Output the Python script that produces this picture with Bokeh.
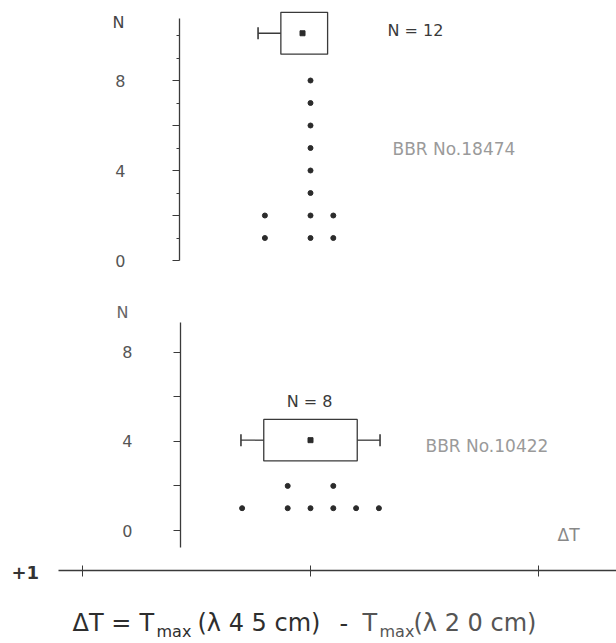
from bokeh.plotting import figure
from bokeh.models import Range1d, LinearAxis, FixedTicker, Label
from bokeh.embed import file_html
from bokeh.resources import INLINE

# ---------------- data ----------------
# upper panel: dot histogram, one dot per object, stacked by count
top_bins = [-0.2, 0.0, 0.1]
top_counts = [2, 8, 2]
top_n_text = "N = 12"
top_id_text = "BBR No.18474"
# upper panel summary box: centre, box limits, whisker limits, level
top_box_center = [-0.035]
top_box_lo = [-0.13]
top_box_hi = [0.075]
top_whisker_lo = [-0.23]
top_box_level = [10.1]

# lower panel
bot_bins = [-0.3, -0.1, 0.0, 0.1, 0.2, 0.3]
bot_counts = [1, 2, 1, 2, 1, 1]
bot_n_text = "N = 8"
bot_id_text = "BBR No.10422"
bot_box_center = [0.0]
bot_box_lo = [-0.205]
bot_box_hi = [0.205]
bot_whisker_lo = [-0.305]
bot_whisker_hi = [0.305]
bot_box_level = [4.05]

y_labeled_ticks = [0, 4, 8]
y_mid_ticks = [2, 6]
top_small_ticks = [1, 3, 5, 7, 9, 10]
x_ticks = [-1, 0, 1]

# ---------------- layout mapping (canvas pixels) ----------------
W, H = 616, 643
PX0, SX = 310.0, 228.0      # x pixel of dT = 0, px per unit
PYB, SYB = 530.0, 22.3      # lower panel: y pixel of N = 0, px per count
PYT, SYT = 260.0, 22.5      # upper panel


def X(px):
    return (px - PX0) / SX


def YB(py):
    return (PYB - py) / SYB


def YT(py):
    return (PYT - py) / SYT


p = figure(width=W, height=H,
           x_range=Range1d(X(0), X(W)),
           y_range=Range1d(YB(H), YB(0)),
           output_backend="svg", toolbar_location=None,
           x_axis_location=None, y_axis_location=None,
           min_border=0, outline_line_color=None,
           background_fill_color="white", border_fill_color="white")
p.extra_y_ranges = {"top": Range1d(YT(H), YT(0))}
p.grid.visible = False

AX_COL = "#3a3a3a"
LBL_COL = "#555555"
FONT = "DejaVu Sans"


def y_axis(range_name, xloc, bounds, standoff):
    kw = {} if range_name is None else {"y_range_name": range_name}
    ax = LinearAxis(fixed_location=xloc, bounds=bounds,
                    ticker=FixedTicker(ticks=y_labeled_ticks, minor_ticks=y_mid_ticks),
                    axis_line_color=AX_COL, axis_line_width=1.3,
                    major_tick_line_color=AX_COL, major_tick_out=7, major_tick_in=0,
                    minor_tick_line_color=AX_COL, minor_tick_out=7, minor_tick_in=0,
                    major_label_standoff=standoff,
                    major_label_text_font=FONT, major_label_text_font_size="16px",
                    major_label_text_color=LBL_COL, **kw)
    p.add_layout(ax, "left")


# upper y axis (+ small unit ticks on a label-free axis)
y_axis("top", X(179), (0, YT(18)), 47)
p.add_layout(LinearAxis(y_range_name="top", fixed_location=X(179), bounds=(0, YT(18)),
                        ticker=FixedTicker(ticks=[], minor_ticks=top_small_ticks),
                        axis_line_color=None, major_tick_line_color=None,
                        minor_tick_line_color=AX_COL, minor_tick_out=3, minor_tick_in=0),
             "left")
# lower y axis
y_axis(None, X(180), (YB(547), YB(322)), 41)

# dT axis: ticks only (no numbers in the picture)
ax_x = LinearAxis(fixed_location=YB(570),
                  bounds=(X(58), X(W)),
                  ticker=FixedTicker(ticks=[], minor_ticks=x_ticks),
                  axis_line_color=AX_COL, axis_line_width=1.3,
                  major_tick_line_color=None,
                  minor_tick_line_color=AX_COL, minor_tick_out=6, minor_tick_in=5)
p.add_layout(ax_x, "below")

DOT = "#2b2b2b"

# upper dots
tx, ty = [], []
for b, c in zip(top_bins, top_counts):
    for k in range(1, c + 1):
        tx.append(b)
        ty.append(k)
p.scatter(tx, ty, y_range_name="top", size=5, color=DOT)

# lower dots
bx, by = [], []
for b, c in zip(bot_bins, bot_counts):
    for k in range(1, c + 1):
        bx.append(b)
        by.append(k)
p.scatter(bx, by, size=5, color=DOT)

BOX_HALF = 0.93
CAP = 0.27
# upper box
p.quad(left=top_box_lo, right=top_box_hi,
       bottom=[v - BOX_HALF for v in top_box_level], top=[v + BOX_HALF for v in top_box_level],
       fill_color=None, line_color=AX_COL, line_width=1.3, y_range_name="top")
p.segment(x0=top_whisker_lo, x1=top_box_lo, y0=top_box_level, y1=top_box_level,
          line_color=AX_COL, line_width=1.3, y_range_name="top")
p.segment(x0=top_whisker_lo, x1=top_whisker_lo,
          y0=[v - CAP for v in top_box_level], y1=[v + CAP for v in top_box_level],
          line_color=AX_COL, line_width=1.6, y_range_name="top")
p.scatter(top_box_center, top_box_level, marker="square", size=5, color=DOT, y_range_name="top")

# lower box
p.quad(left=bot_box_lo, right=bot_box_hi,
       bottom=[v - BOX_HALF for v in bot_box_level], top=[v + BOX_HALF for v in bot_box_level],
       fill_color=None, line_color=AX_COL, line_width=1.3)
p.segment(x0=bot_whisker_lo + bot_box_hi, x1=bot_box_lo + bot_whisker_hi,
          y0=bot_box_level * 2, y1=bot_box_level * 2,
          line_color=AX_COL, line_width=1.3)
p.segment(x0=bot_whisker_lo + bot_whisker_hi, x1=bot_whisker_lo + bot_whisker_hi,
          y0=[v - CAP for v in bot_box_level] * 2, y1=[v + CAP for v in bot_box_level] * 2,
          line_color=AX_COL, line_width=1.6)
p.scatter(bot_box_center, bot_box_level, marker="square", size=5, color=DOT)


def label(text, px, py, size="16px", color="#444444", align="left", style="normal", baseline="middle"):
    p.add_layout(Label(x=X(px), y=YB(py), text=text, text_font=FONT,
                       text_font_size=size, text_color=color, text_align=align,
                       text_baseline=baseline, text_font_style=style))


# axis titles
label("N", 118, 22, color="#444444", align="center")
label("N", 122, 312, color="#666666", align="center")
# panel annotations
label(top_n_text, 387, 30, size="16px", color="#3a3a3a")
label(top_id_text, 392, 148, size="17px", color="#9a9a9a")
label(bot_n_text, 309, 401, size="16px", color="#3a3a3a", align="center")
label(bot_id_text, 425, 445, size="17px", color="#9a9a9a")
label("ΔT", 557, 534, size="17px", color="#888888")
label("+1", 11, 572, size="18px", color="#333333", style="bold")

# formula: dT = Tmax(l 45 cm) - Tmax(l 20 cm)
FC = "#2e2e2e"
label("ΔT =", 72, 622, size="24px", color=FC)
label("T", 139, 622, size="24px", color=FC)
label("max", 156, 631, size="16px", color=FC)
label("(λ 4 5 cm)", 197, 622, size="24px", color=FC)
label("-", 339, 622, size="24px", color=FC)
label("T", 362, 622, size="24px", color="#555555")
label("max", 379, 631, size="16px", color="#555555")
label("(λ 2 0 cm)", 413, 622, size="24px", color="#555555")

open("out.html", "w").write(file_html(p, INLINE))
